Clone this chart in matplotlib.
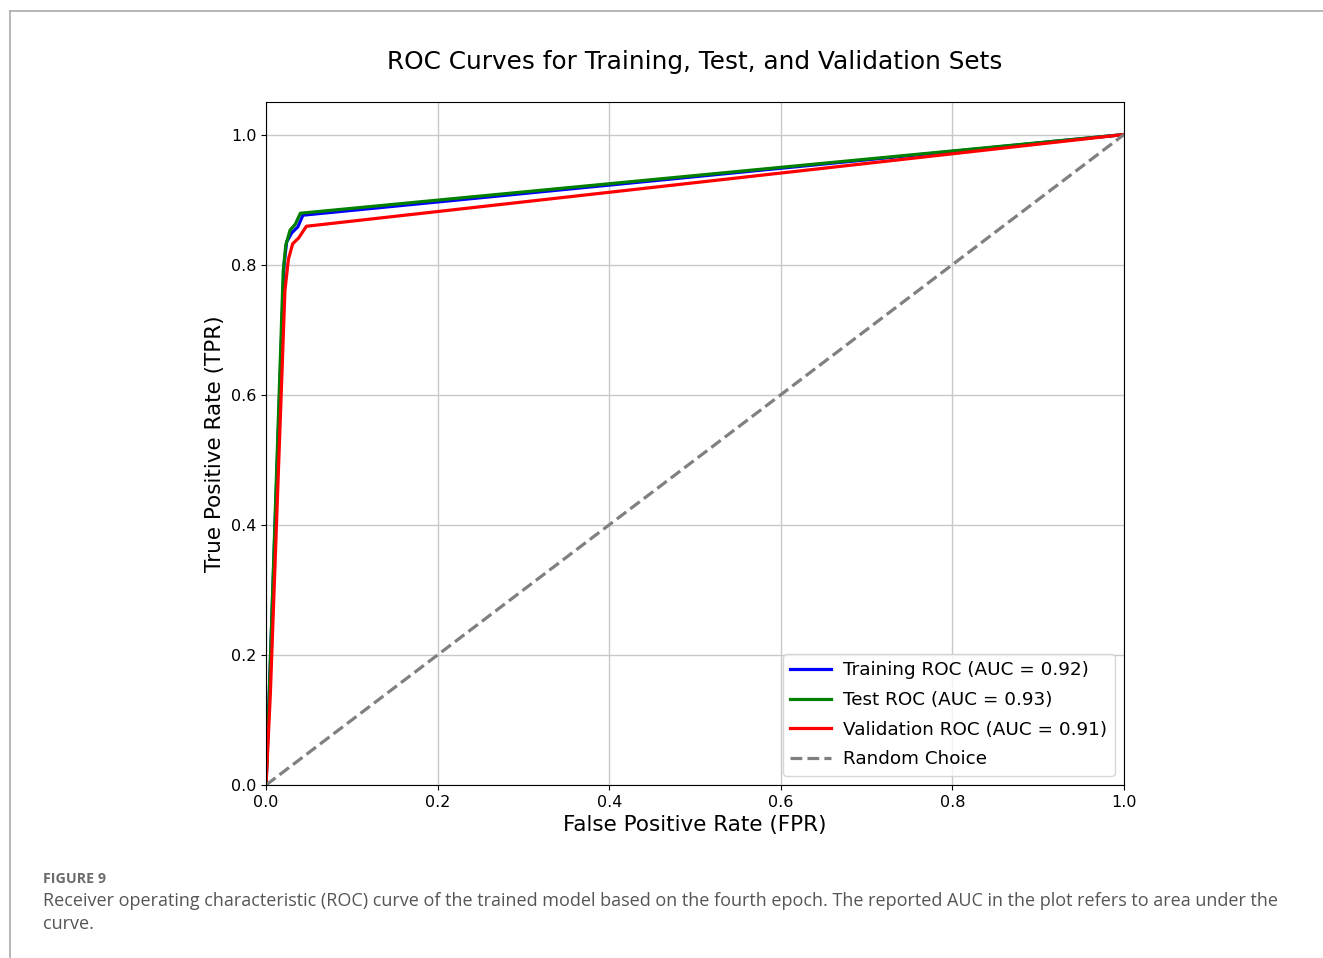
import matplotlib
matplotlib.use("Agg")
import matplotlib.pyplot as plt
from matplotlib.lines import Line2D

# ROC points
train_fpr = [0.0, 0.004, 0.021, 0.024, 0.030, 0.037, 0.043, 1.0]
train_tpr = [0.0, 0.15, 0.80, 0.835, 0.849, 0.858, 0.876, 1.0]
test_fpr = [0.0, 0.004, 0.020, 0.023, 0.028, 0.034, 0.040, 1.0]
test_tpr = [0.0, 0.15, 0.79, 0.830, 0.853, 0.862, 0.879, 1.0]
val_fpr = [0.0, 0.005, 0.022, 0.026, 0.031, 0.038, 0.047, 1.0]
val_tpr = [0.0, 0.14, 0.76, 0.808, 0.832, 0.841, 0.859, 1.0]

labels = ["Training ROC (AUC = 0.92)", "Test ROC (AUC = 0.93)",
          "Validation ROC (AUC = 0.91)", "Random Choice"]
ticks = [0.0, 0.2, 0.4, 0.6, 0.8, 1.0]

fig = plt.figure(figsize=(13.23, 9.58), dpi=100)
ax = fig.add_axes([0.2011, 0.1806, 0.6485, 0.7129])

ax.plot(train_fpr, train_tpr, color="blue", lw=2.3, label=labels[0])
ax.plot(test_fpr, test_tpr, color="green", lw=2.3, label=labels[1])
ax.plot(val_fpr, val_tpr, color="red", lw=2.3, label=labels[2])
ax.plot([0, 1], [0, 1], color="gray", lw=2.3, ls="--", label=labels[3])

ax.set_xlim(0, 1)
ax.set_ylim(0, 1.05)
ax.set_xticks(ticks)
ax.set_yticks(ticks)
ax.tick_params(labelsize=11.5)
ax.grid(True, color="#c8c8c8", lw=1)
ax.set_axisbelow(True)
ax.set_xlabel("False Positive Rate (FPR)", fontsize=15.5)
ax.set_ylabel("True Positive Rate (TPR)", fontsize=15.5)
ax.set_title("ROC Curves for Training, Test, and Validation Sets", fontsize=17.8, pad=24)
ax.legend(loc="lower right", fontsize=13.2, handlelength=2.2,
          handletextpad=0.7, labelspacing=0.64)

# page frame
fig.add_artist(Line2D([0.0076, 0.0076], [0, 0.9885], color="#aaaaaa", lw=1.2))
fig.add_artist(Line2D([0.0076, 1.0], [0.9885, 0.9885], color="#aaaaaa", lw=1.2))

fig.text(0.0325, 0.078, "FIGURE 9", fontsize=10.3, color="#6b6b6b",
         family="Open Sans", weight="bold")
fig.text(0.0325, 0.054,
         "Receiver operating characteristic (ROC) curve of the trained model based on the fourth epoch. "
         "The reported AUC in the plot refers to area under the",
         fontsize=13, color="#555555", family="Open Sans")
fig.text(0.0325, 0.030, "curve.", fontsize=13, color="#555555", family="Open Sans")

fig.savefig("out.png", dpi=100)
